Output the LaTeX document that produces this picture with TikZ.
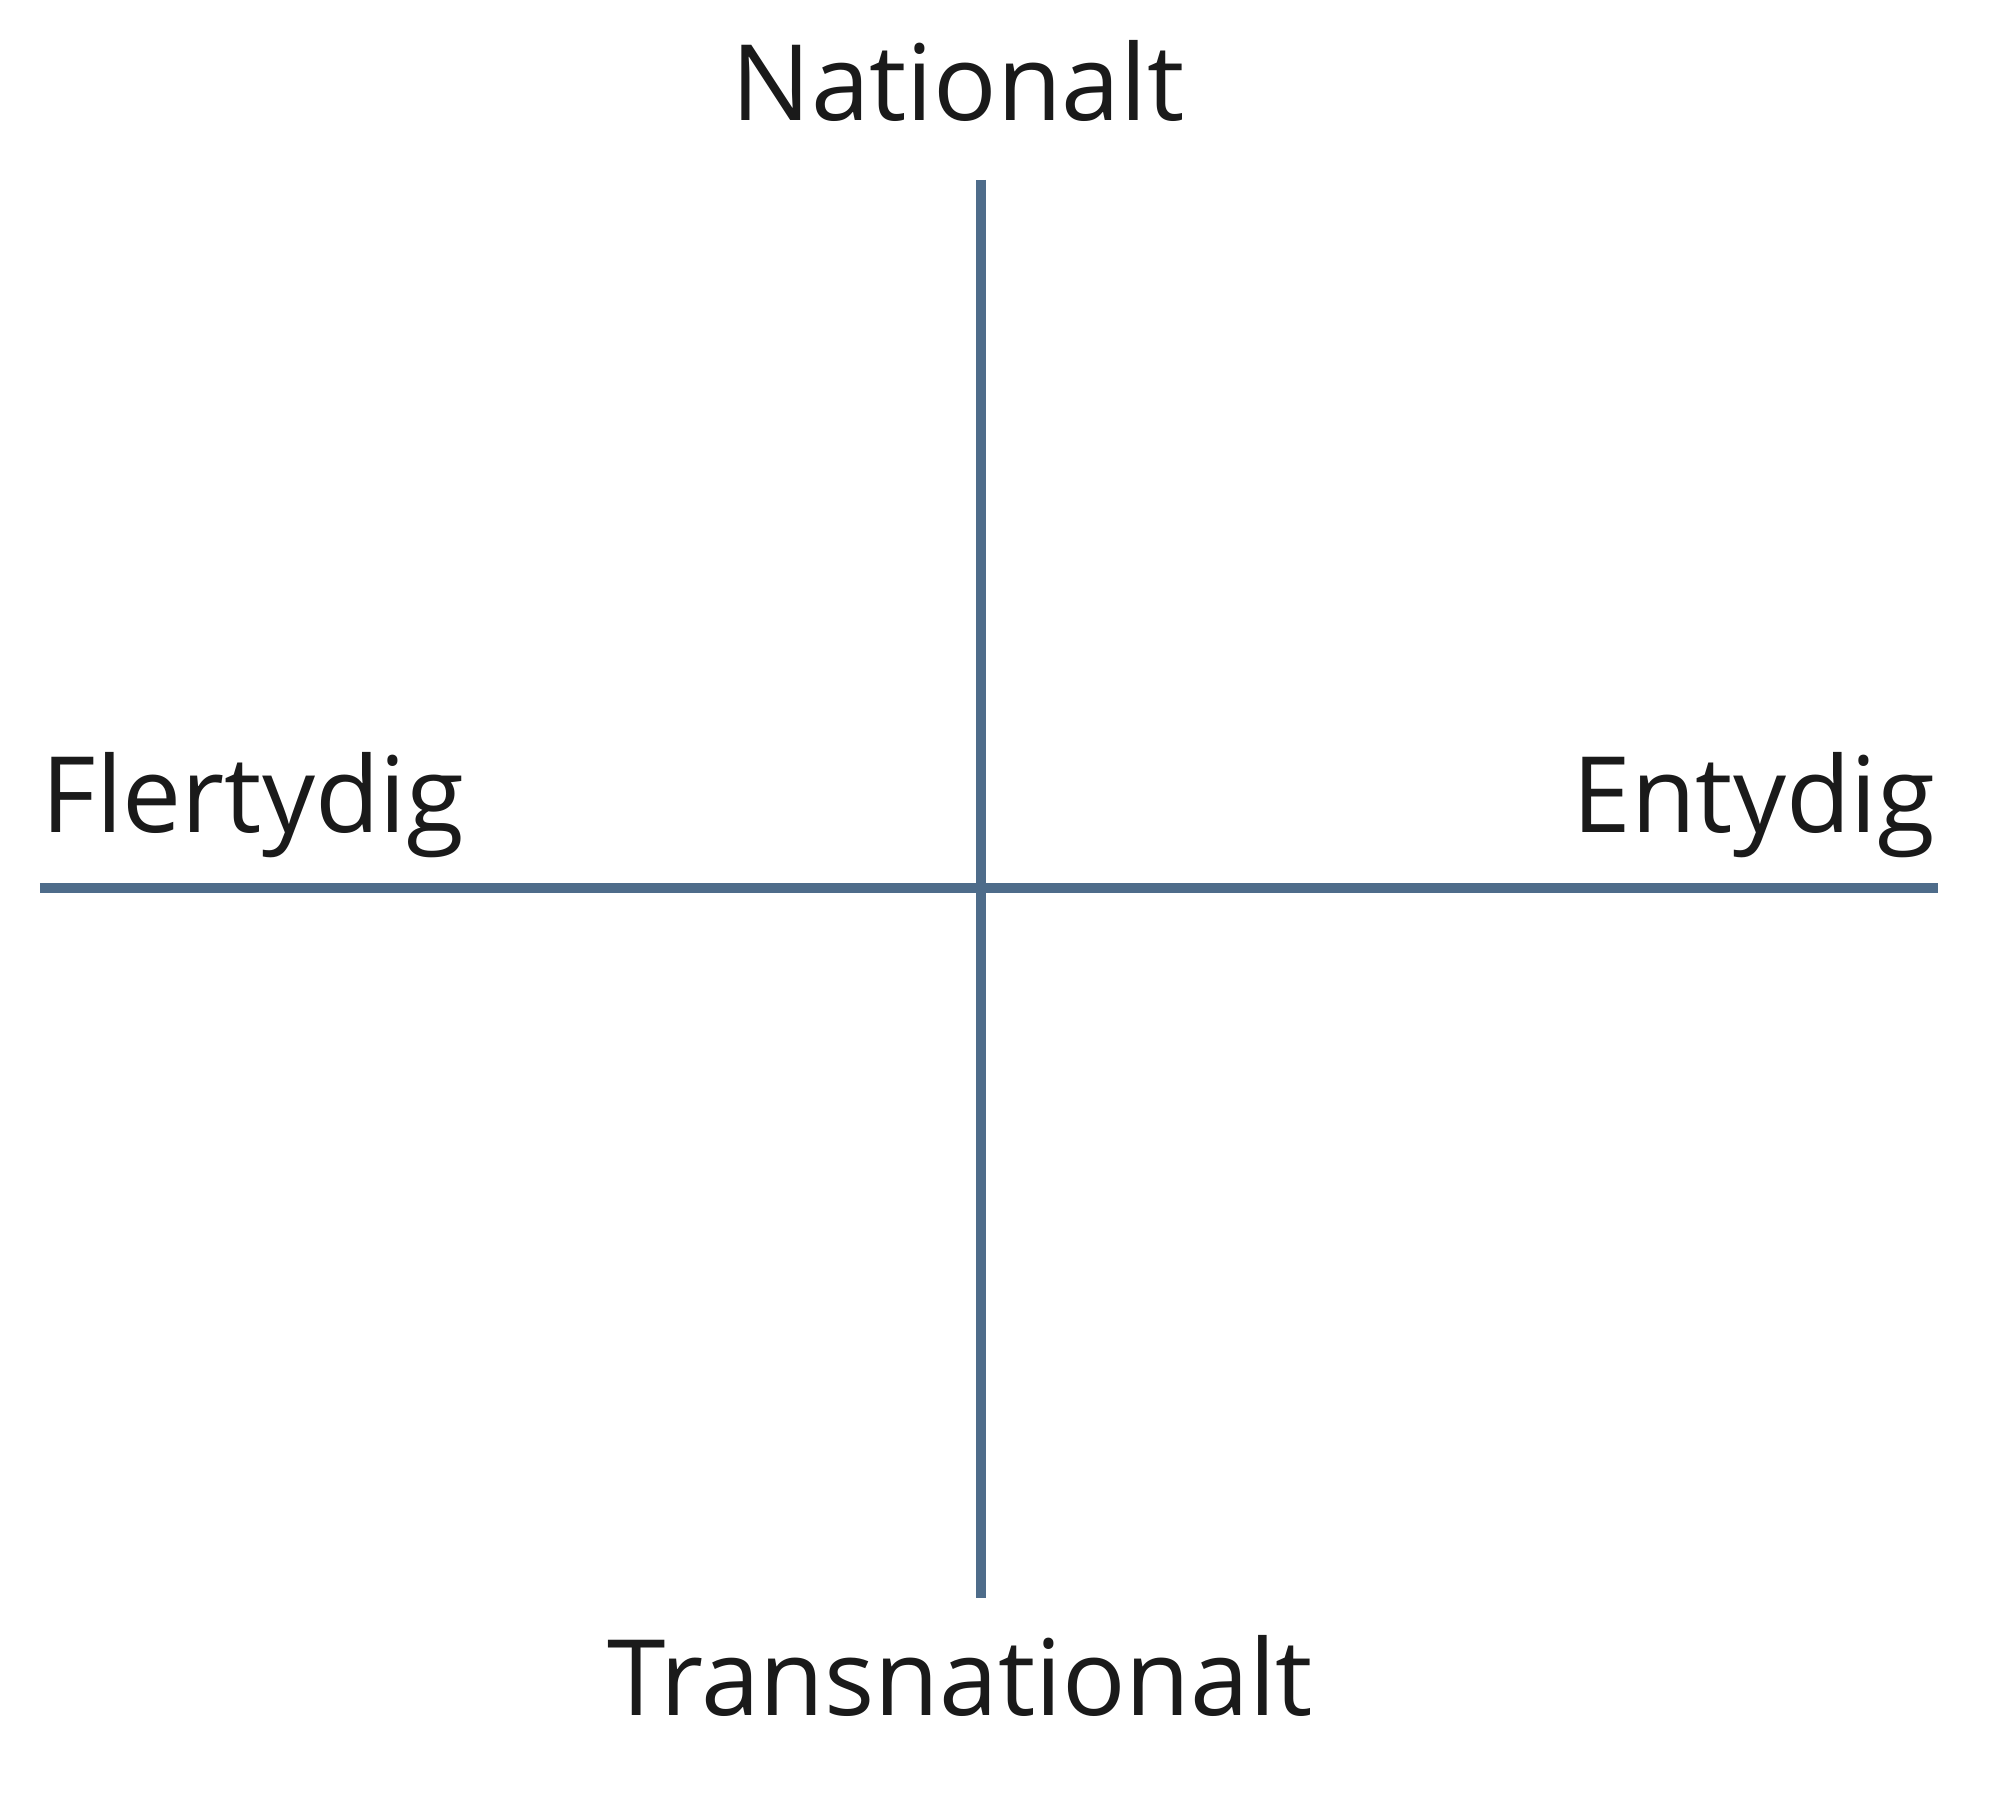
\documentclass[tikz,border=0pt]{standalone}
\usepackage{fontspec}
\setmainfont{Open Sans}
\usepackage{xcolor}
\usetikzlibrary{positioning}
\definecolor{axisblue}{RGB}{78,108,138}
\definecolor{labelblack}{RGB}{26,26,26}

\begin{document}
\begin{tikzpicture}
			\useasboundingbox (0,0) rectangle (20,18.04);
			\tikzset{axis/.style={axisblue, line width=2.8pt},
				label/.style={text=labelblack, inner sep=0pt, font=\fontsize{30}{36}\selectfont}}

			% ends of the axes
			\coordinate (W) at (0.40,9.16);
			\coordinate (E) at (19.38,9.16);
			\coordinate (N) at (9.81,16.24);
			\coordinate (S) at (9.81,2.06);

			% axes
			\draw[axis] (W) -- (E);
			\draw[axis] (N) -- (S);

			% labels of the poles
			\node[label, anchor=base] (nat) at (9.58,16.83) {Nationalt};
			\node[label, anchor=base] (trans) at (9.60,0.88) {Transnationalt};
			\node[label, anchor=base west] (fler) at (0.41,9.71) {Flertydig};
			\node[label, anchor=base east] (ent) at (19.36,9.71) {Entydig};

		\end{tikzpicture}
\end{document}
